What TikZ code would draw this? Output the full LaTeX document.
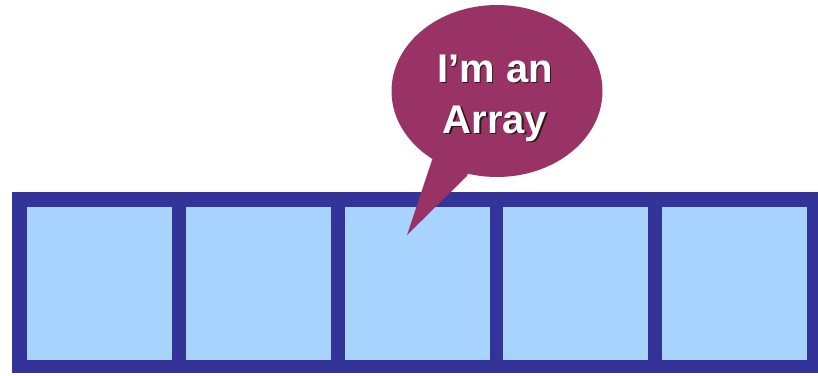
\documentclass[tikz,border=0pt]{standalone}
\usepackage{fontspec}
\setmainfont{Liberation Sans}
\usetikzlibrary{shapes.geometric}
\definecolor{frameblue}{HTML}{333399}
\definecolor{cellblue}{HTML}{A8D3FF}
\definecolor{bubble}{HTML}{993366}
\definecolor{shadowc}{HTML}{2A1A10}
\tikzset{
  frame/.style={rectangle, fill=frameblue, draw=none, inner sep=0pt, minimum width=806pt, minimum height=181pt},
  cell/.style={rectangle, fill=cellblue, draw=none, inner sep=0pt, minimum width=145pt, minimum height=153pt},
  bubblebox/.style={ellipse, fill=bubble, draw=none, inner sep=0pt, minimum width=211pt, minimum height=172pt},
  btext/.style={font=\bfseries\fontsize{40}{40}\selectfont, text=white, anchor=base, inner sep=0pt},
  bshadow/.style={btext, text=shadowc}
}
\begin{document}
\begin{tikzpicture}[x=1pt,y=-1pt]
\useasboundingbox (0,0) rectangle (818,375);
\node[frame] (array) at (415,282.5) {};
\foreach \i in {0,...,4} {
  \node[cell] (c\i) at ({99.5+158.75*\i},283.5) {};
}
\node[bubblebox] (bub) at (497,91) {};
\coordinate (tip) at (407,235);
\fill[bubble] (bub.center) -- (432,160) -- (tip) -- (467,176) -- cycle;
\node[bshadow] (s1) at (496.5,83.5) {I’m an};
\node[bshadow] (s2) at (496.5,134.5) {Array};
\node[btext] (t1) at (495,82) {I’m an};
\node[btext] (t2) at (495,133) {Array};
\end{tikzpicture}
\end{document}
